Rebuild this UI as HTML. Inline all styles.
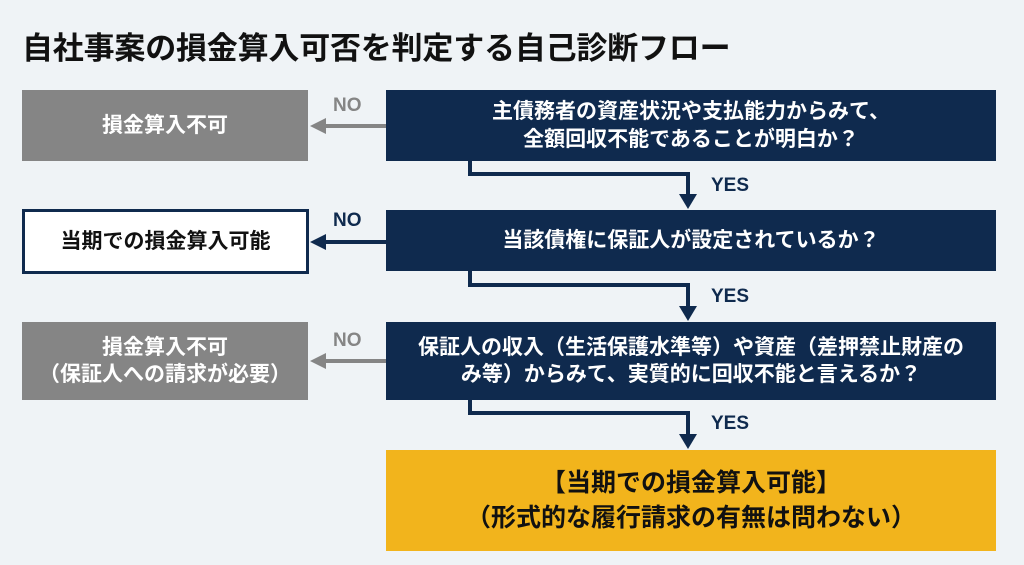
<!DOCTYPE html>
<html><head><meta charset="utf-8"><style>
body{margin:0;width:1024px;height:565px;background:#eff3f6;font-family:"Liberation Sans","Noto Sans CJK JP",sans-serif;position:relative;overflow:hidden}
.b{position:absolute;display:flex;align-items:center;justify-content:center;text-align:center;font-weight:bold;box-sizing:border-box;line-height:1.3}
.n{background:#0f2a4e;color:#fff;font-size:21px}
.g{background:#858585;color:#fff;font-size:21px}
.t{position:absolute;font-weight:bold;font-size:19px}
</style></head><body>
<div style="position:absolute;left:22px;top:23px;font-size:31px;font-weight:bold;color:#111;letter-spacing:-0.2px">自社事案の損金算入可否を判定する自己診断フロー</div>
<div class="b g" style="left:22px;top:90px;width:286px;height:71px">損金算入不可</div>
<div class="b" style="left:22px;top:209px;width:287px;height:65px;background:#fff;border:3px solid #0f2a4e;color:#111;font-size:21px">当期での損金算入可能</div>
<div class="b g" style="left:22px;top:322px;width:286px;height:78px">損金算入不可<br>（保証人への請求が必要）</div>
<div class="b n" style="left:386px;top:90px;width:610px;height:71px">主債務者の資産状況や支払能力からみて、<br>全額回収不能であることが明白か？</div>
<div class="b n" style="left:386px;top:210px;width:610px;height:61px">当該債権に保証人が設定されているか？</div>
<div class="b n" style="left:386px;top:322px;width:610px;height:78px">保証人の収入（生活保護水準等）や資産（差押禁止財産の<br>み等）からみて、実質的に回収不能と言えるか？</div>
<div class="b" style="left:386px;top:450px;width:610px;height:101px;background:#f2b41c;color:#111;font-size:25px;line-height:1.4">【当期での損金算入可能】<br>（形式的な履行請求の有無は問わない）</div>
<svg width="1024" height="565" style="position:absolute;left:0;top:0">
<g fill="none" stroke-width="4">
<path d="M470 161V174H688V196" stroke="#0f2a4e"/>
<path d="M470 271V285H688V308" stroke="#0f2a4e"/>
<path d="M470 400V413H688V436" stroke="#0f2a4e"/>
<path d="M386 126H322" stroke="#858585"/>
<path d="M386 242H322" stroke="#0f2a4e"/>
<path d="M386 361H322" stroke="#858585"/>
</g>
<polygon points="679,194 697,194 688,209" fill="#0f2a4e"/>
<polygon points="679,306 697,306 688,321" fill="#0f2a4e"/>
<polygon points="679,434 697,434 688,449" fill="#0f2a4e"/>
<polygon points="326,118 326,134 310,126" fill="#858585"/>
<polygon points="326,234 326,250 310,242" fill="#0f2a4e"/>
<polygon points="326,353 326,369 310,361" fill="#858585"/>
</svg>
<div class="t" style="left:711px;top:175px;color:#0f2a4e">YES</div>
<div class="t" style="left:711px;top:286px;color:#0f2a4e">YES</div>
<div class="t" style="left:711px;top:413px;color:#0f2a4e">YES</div>
<div class="t" style="left:333px;top:95px;color:#858585">NO</div>
<div class="t" style="left:333px;top:210px;color:#0f2a4e">NO</div>
<div class="t" style="left:333px;top:330px;color:#858585">NO</div>
</body></html>
